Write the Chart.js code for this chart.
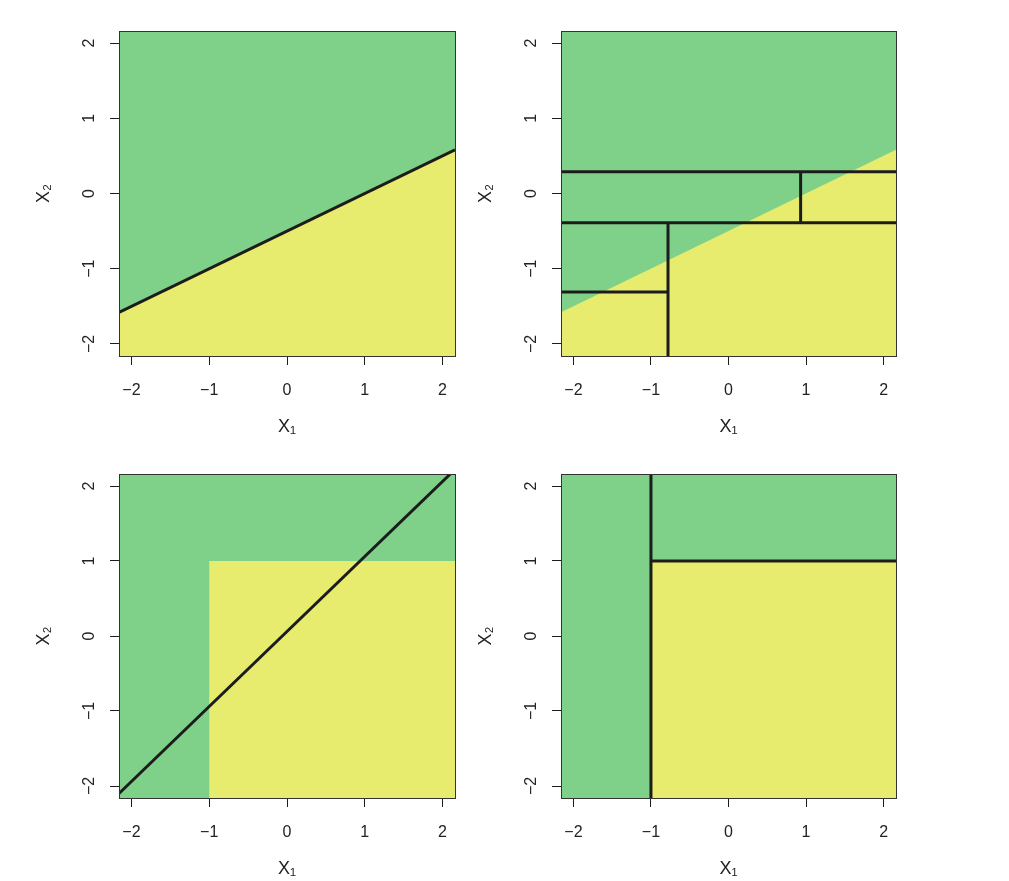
<!DOCTYPE html>
<html>
<head>
<meta charset="utf-8">
<script src="https://cdn.jsdelivr.net/npm/chart.js@4/dist/chart.umd.min.js"></script>
<style>
  body { margin: 0; background: #fff; width: 1009px; height: 881px; overflow: hidden; }
  .panel { position: absolute; }
</style>
</head>
<body>
<div class="panel" id="p1"><canvas id="c1"></canvas></div>
<div class="panel" id="p2"><canvas id="c2"></canvas></div>
<div class="panel" id="p3"><canvas id="c3"></canvas></div>
<div class="panel" id="p4"><canvas id="c4"></canvas></div>
<script>
// axis range and ticks
const axisMin = -2.16;
const axisMax = 2.16;
const tickValues = [-2, -1, 0, 1, 2];
const tickLabels = ['\u22122', '\u22121', '0', '1', '2'];

// regions (x1, x2 values)
const fullSquare = [
  { x: -2.16, y: -2.16 }, { x: -2.16, y: 2.16 }, { x: 2.16, y: 2.16 }, { x: 2.16, y: -2.16 }, { x: -2.16, y: -2.16 }
];
const belowLinear = [
  { x: -2.16, y: -2.16 }, { x: -2.16, y: -1.58 }, { x: 2.16, y: 0.58 }, { x: 2.16, y: -2.16 }, { x: -2.16, y: -2.16 }
];
const boxRegion = [
  { x: -1, y: -2.16 }, { x: -1, y: 1 }, { x: 2.16, y: 1 }, { x: 2.16, y: -2.16 }, { x: -1, y: -2.16 }
];

// boundaries
const linearBoundary = [{ x: -2.16, y: -1.58 }, { x: 2.16, y: 0.58 }];
const diagonalBoundary = [{ x: -2.16, y: -2.1 }, { x: 2.1, y: 2.16 }];
const treeSplitsLinear = [
  [{ x: -2.16, y: 0.29 }, { x: 2.16, y: 0.29 }],
  [{ x: -2.16, y: -0.39 }, { x: 2.16, y: -0.39 }],
  [{ x: 0.93, y: -0.39 }, { x: 0.93, y: 0.29 }],
  [{ x: -0.78, y: -2.16 }, { x: -0.78, y: -0.39 }],
  [{ x: -2.16, y: -1.31 }, { x: -0.78, y: -1.31 }]
];
const treeSplitsBox = [
  [{ x: -1, y: -2.16 }, { x: -1, y: 2.16 }],
  [{ x: -1, y: 1 }, { x: 2.16, y: 1 }]
];

const GREEN = '#7fd089';
const YELLOW = '#e7ec6e';
const INK = '#1c1c1c';
const FONT = "'Liberation Sans', Arial, Helvetica, sans-serif";

function regionSet(points, color, order) {
  return {
    data: points, showLine: true, fill: 'shape', backgroundColor: color,
    borderWidth: 0, borderColor: color, pointRadius: 0, tension: 0, order: order
  };
}
function lineSet(points) {
  return {
    data: points, showLine: true, fill: false, borderColor: INK,
    borderWidth: 3, pointRadius: 0, tension: 0, borderCapStyle: 'butt', order: 1
  };
}

function makePanel(id, box, datasets) {
  const wrap = document.getElementById('p' + id);
  wrap.style.left = (box.left - 100) + 'px';
  wrap.style.top = (box.top - 10) + 'px';
  wrap.style.width = (100 + box.width + 10) + 'px';
  wrap.style.height = (10 + box.height + 82) + 'px';

  // frame on top / right edges, drawn above the fills
  const edgeAxis = (pos) => ({
    type: 'linear', position: pos, min: axisMin, max: axisMax,
    ticks: { display: false }, grid: { display: false },
    border: { display: true, color: '#333', width: 1, z: 1 },
    afterFit: s => { if (pos === 'top') s.height = 0; else s.width = 0; }
  });

  new Chart(document.getElementById('c' + id), {
    type: 'scatter',
    data: { datasets: datasets },
    options: {
      responsive: true,
      maintainAspectRatio: false,
      animation: false,
      events: [],
      layout: { padding: { top: 10, right: 10, left: 0, bottom: 0 } },
      plugins: { legend: { display: false }, tooltip: { enabled: false } },
      scales: {
        x: {
          type: 'linear', position: 'bottom', min: axisMin, max: axisMax,
          afterBuildTicks: s => { s.ticks = tickValues.map(v => ({ value: v })); },
          afterFit: s => { s.height = 82; s.paddingLeft = 0; s.paddingRight = 0; },
          ticks: {
            color: '#222', font: { family: FONT, size: 16 }, padding: 16,
            maxRotation: 0, callback: v => tickLabels[tickValues.indexOf(v)]
          },
          grid: { drawOnChartArea: false, drawTicks: true, tickLength: 9, tickColor: INK, tickWidth: 1 },
          border: { display: true, color: '#333', width: 1, z: 1 },
          title: { display: true, text: 'X\u2081', color: '#222', font: { family: FONT, size: 18 }, padding: 0 }
        },
        y: {
          type: 'linear', position: 'left', min: axisMin, max: axisMax,
          afterBuildTicks: s => { s.ticks = tickValues.map(v => ({ value: v })); },
          afterFit: s => { s.width = 100; s.paddingTop = 0; s.paddingBottom = 0; },
          ticks: {
            color: '#222', font: { family: FONT, size: 16 }, padding: 11,
            minRotation: 90, maxRotation: 90, crossAlign: 'center',
            callback: v => tickLabels[tickValues.indexOf(v)]
          },
          grid: { drawOnChartArea: false, drawTicks: true, tickLength: 9, tickColor: INK, tickWidth: 1 },
          border: { display: true, color: '#333', width: 1, z: 1 },
          title: { display: true, text: 'X\u2082', color: '#222', font: { family: FONT, size: 18 }, padding: { top: 14, bottom: 0 } }
        },
        xTop: edgeAxis('top'),
        yRight: edgeAxis('right')
      }
    }
  });
}

// top left: linear boundary
makePanel(1, { left: 119, top: 31, width: 336, height: 325 }, [
  regionSet(fullSquare, GREEN, 3),
  regionSet(belowLinear, YELLOW, 2),
  lineSet(linearBoundary)
]);

// top right: tree on linear boundary
makePanel(2, { left: 561, top: 31, width: 335, height: 325 },
  [regionSet(fullSquare, GREEN, 3), regionSet(belowLinear, YELLOW, 2)]
    .concat(treeSplitsLinear.map(lineSet)));

// bottom left: linear fit on box boundary
makePanel(3, { left: 119, top: 474, width: 336, height: 324 }, [
  regionSet(fullSquare, GREEN, 3),
  regionSet(boxRegion, YELLOW, 2),
  lineSet(diagonalBoundary)
]);

// bottom right: tree on box boundary
makePanel(4, { left: 561, top: 474, width: 335, height: 324 },
  [regionSet(fullSquare, GREEN, 3), regionSet(boxRegion, YELLOW, 2)]
    .concat(treeSplitsBox.map(lineSet)));
</script>
</body>
</html>
